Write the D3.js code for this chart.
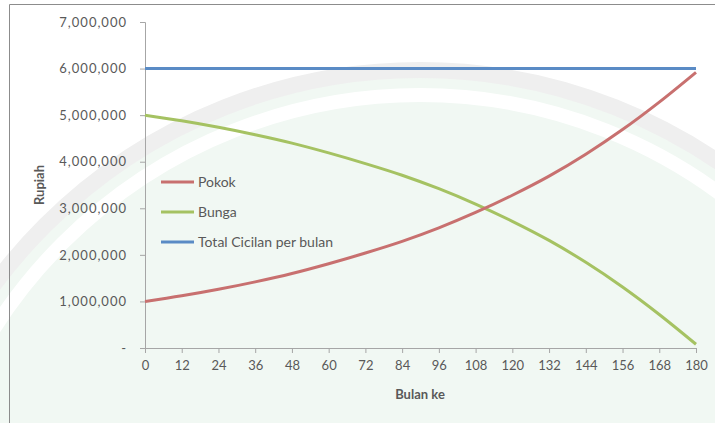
<!DOCTYPE html>
<html>
<head>
<meta charset="utf-8">
<script src="https://cdn.jsdelivr.net/npm/d3@7"></script>
<style>
  body { margin: 0; background: #fff; }
  svg text { font-family: Lato, "Open Sans", sans-serif; fill: #595959; }
</style>
</head>
<body>
<div id="chart"></div>
<script>
// months on the x axis (every 12th month)
var months = [0, 12, 24, 36, 48, 60, 72, 84, 96, 108, 120, 132, 144, 156, 168, 180];
var pokok = [1000000, 1120000, 1260000, 1420000, 1600000, 1810000, 2040000, 2290000,
             2580000, 2910000, 3280000, 3690000, 4160000, 4690000, 5280000, 5920000];
var bunga = [5000000, 4880000, 4740000, 4580000, 4400000, 4190000, 3960000, 3710000,
             3420000, 3090000, 2720000, 2310000, 1840000, 1310000, 720000, 80000];
var total = [6000000, 6000000, 6000000, 6000000, 6000000, 6000000, 6000000, 6000000,
             6000000, 6000000, 6000000, 6000000, 6000000, 6000000, 6000000, 6000000];
var yTicks = [0, 1000000, 2000000, 3000000, 4000000, 5000000, 6000000, 7000000];
var seriesNames = ["Pokok", "Bunga", "Total Cicilan per bulan"];

function drawChart(selector){
    var width = 715, height = 423;
    var margin = {left: 145, right: 19, top: 22, bottom: 75};
    var colors = ["#c8706f", "#a5c262", "#5a8bc5"];

    var svg = d3.select(selector)
        .append("svg")
        .attr("width", width)
        .attr("height", height)

    // pale watermark behind the chart
    var wm = svg.append("g")
    wm.append("circle")
        .attr("cx", 420).attr("cy", 600).attr("r", 530)
        .attr("fill", "#f1f8f3")
        .attr("stroke", "#efefef")
        .attr("stroke-width", 16)
    wm.append("circle")
        .attr("cx", 420).attr("cy", 600).attr("r", 505)
        .attr("fill", "none")
        .attr("stroke", "#ffffff")
        .attr("stroke-width", 14)

    // frame
    svg.append("path")
        .attr("d", "M9.5,423V4.5H715")
        .attr("fill", "none")
        .attr("stroke", "#8c8c8c")
        .attr("stroke-width", 1)

    var x = d3.scaleLinear()
        .domain([0, 180])
        .range([margin.left, width - margin.right])
    var y = d3.scaleLinear()
        .domain([0, 7000000])
        .range([height - margin.bottom, margin.top])

    var fmt = d3.format(",");

    var yAxis = svg.append("g")
        .attr("transform", "translate(" + margin.left + ",0)")
        .call(d3.axisLeft(y).tickValues(yTicks).tickSize(5).tickPadding(13)
            .tickFormat(function(d){ return d === 0 ? "-" : fmt(d); }))
    var xAxis = svg.append("g")
        .attr("transform", "translate(0," + (height - margin.bottom) + ")")
        .call(d3.axisBottom(x).tickValues(months).tickSize(5).tickPadding(8))

    svg.selectAll(".domain, .tick line")
        .attr("stroke", "#a6a6a6")
    yAxis.selectAll("text")
        .style("font-size", "13px")
        .style("letter-spacing", "1px")
    xAxis.selectAll("text")
        .style("font-size", "13px")

    // axis titles
    svg.append("text")
        .attr("transform", "translate(44,185) rotate(-90)")
        .attr("text-anchor", "middle")
        .style("font-size", "13px")
        .style("font-weight", "bold")
        .text("Rupiah")
    svg.append("text")
        .attr("x", 420).attr("y", 399)
        .attr("text-anchor", "middle")
        .style("font-size", "13px")
        .style("font-weight", "bold")
        .text("Bulan ke")

    var line = d3.line()
        .x(function(d, i){ return x(months[i]); })
        .y(function(d){ return y(d); })
        .curve(d3.curveMonotoneX)

    var allSeries = [pokok, bunga, total];
    // draw in reverse so Pokok sits on top like the reference
    [2, 1, 0].forEach(function(k){
        svg.append("path")
            .attr("d", line(allSeries[k]))
            .attr("fill", "none")
            .attr("stroke", colors[k])
            .attr("stroke-width", 3)
    })

    // legend
    var legend = svg.append("g")
    seriesNames.forEach(function(name, i){
        var ly = 182 + i * 30;
        legend.append("line")
            .attr("x1", 161).attr("x2", 194)
            .attr("y1", ly).attr("y2", ly)
            .attr("stroke", colors[i])
            .attr("stroke-width", 3)
        legend.append("text")
            .attr("x", 198).attr("y", ly + 5)
            .style("font-size", "14px")
            .text(name)
    })
}

drawChart("#chart");
</script>
</body>
</html>
